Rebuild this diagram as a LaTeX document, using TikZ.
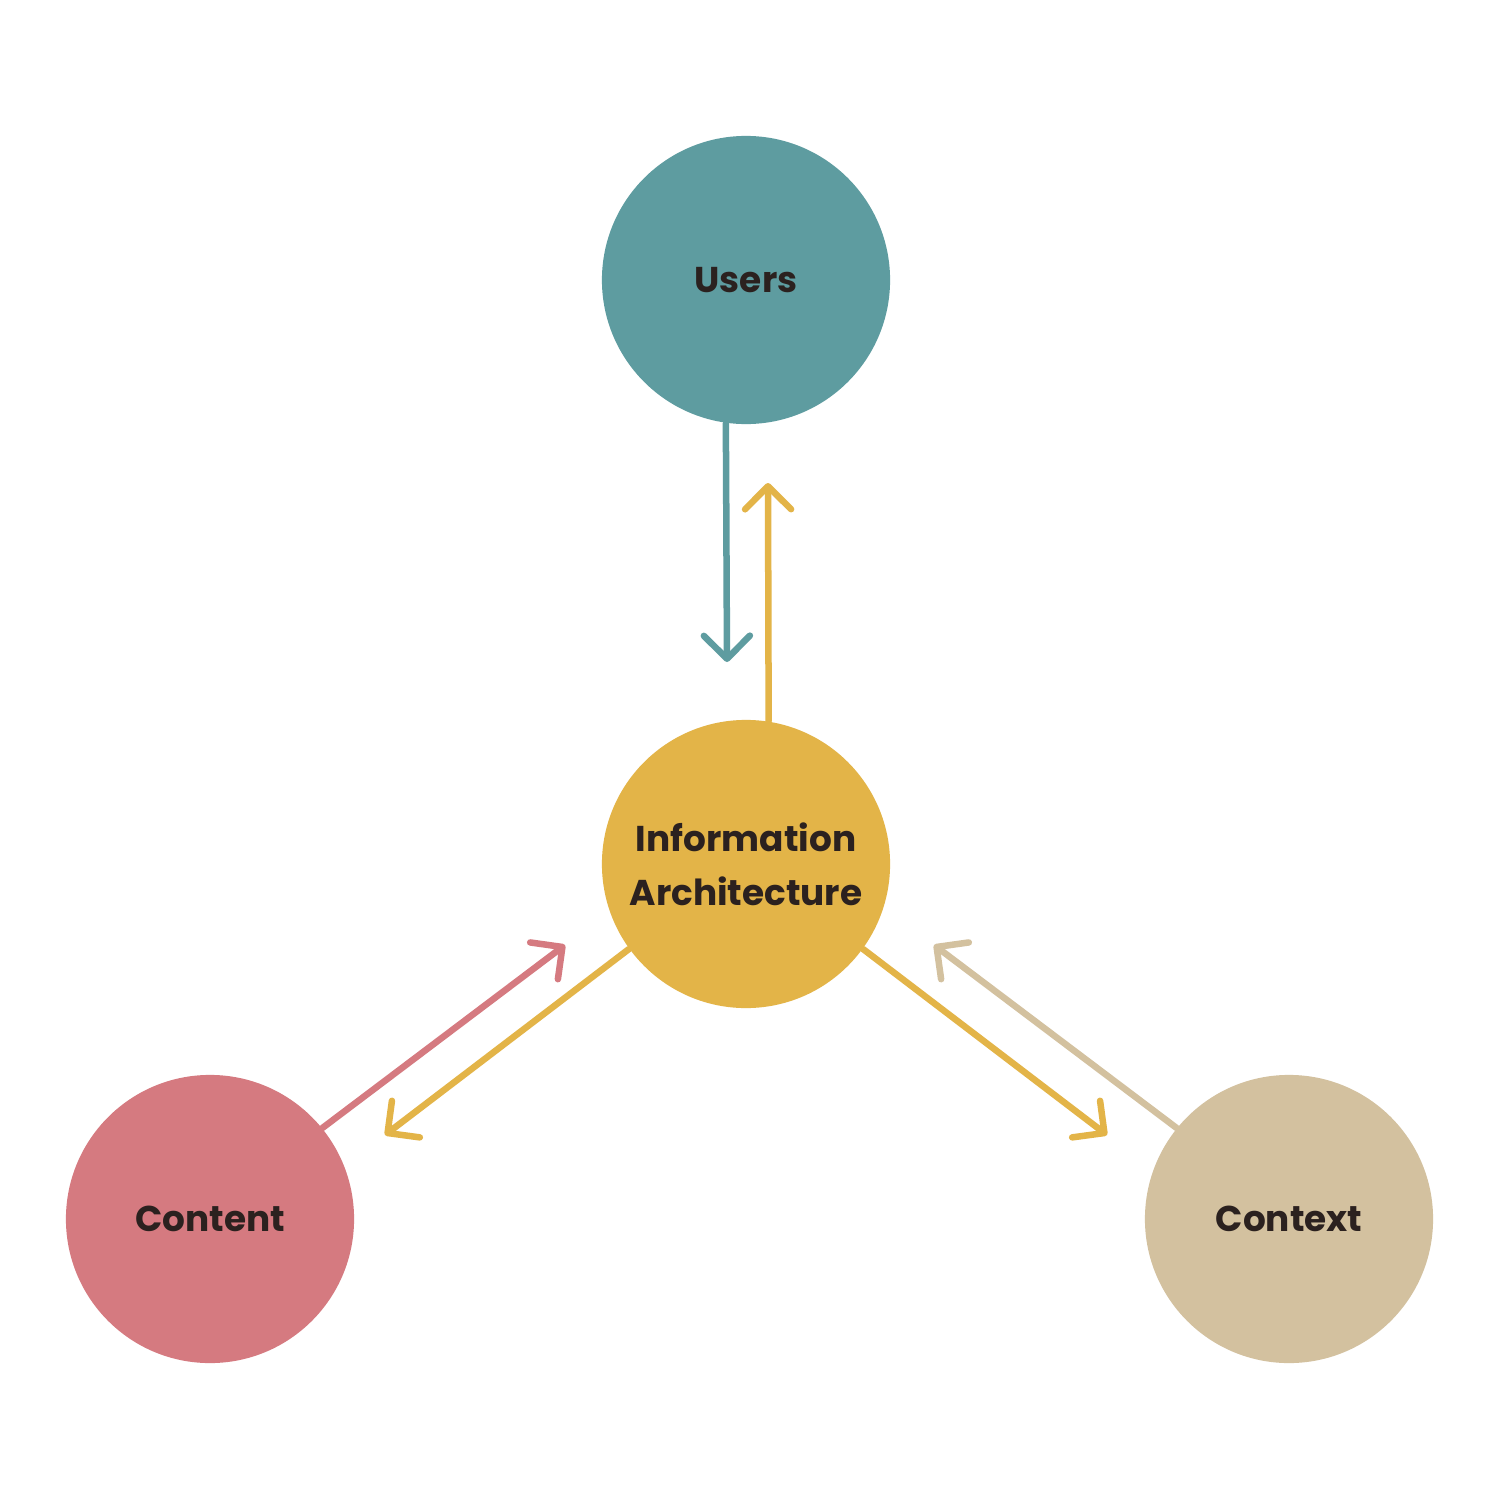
\documentclass[tikz,border=0pt]{standalone}
\usepackage{fontspec}
\setmainfont{Poppins}[UprightFont=* Bold]
\usetikzlibrary{arrows.meta}
\definecolor{teal}{HTML}{5E9CA0}
\definecolor{gold}{HTML}{E3B448}
\definecolor{rose}{HTML}{D57A80}
\definecolor{sand}{HTML}{D3C19F}
\definecolor{ink}{HTML}{2B211F}
\begin{document}
\begin{tikzpicture}[x=0.01cm,y=-0.01cm,
  bubble/.style={circle,minimum size=2.88cm,inner sep=0pt,text=ink,font=\fontsize{10.2pt}{15.4pt}\selectfont,align=center},
  link/.style={line width=0.065cm,line cap=round,-{Straight Barb[length=0.23cm,width=0.46cm,line cap=round,line join=round]}}]
\useasboundingbox[fill=white] (0,0) rectangle (1500,1500);
\node[bubble,fill=teal] (u) at (746,280) {Users};
\node[bubble,fill=gold] (ia) at (746,864) {Information\\Architecture};
\node[bubble,fill=rose] (c) at (210,1219) {Content};
\node[bubble,fill=sand] (x) at (1289,1219) {Context};
\coordinate (ue) at (727,662);
\coordinate (iu) at (768,483);
\coordinate (ce) at (565,945);
\coordinate (ic) at (385,1135);
\coordinate (ix) at (1107,1135);
\coordinate (xe) at (934,945);
\draw[link,teal] (u.262.4) -- (ue);
\draw[link,gold] (ia.81.2) -- (iu);
\draw[link,rose] (c.39.1) -- (ce);
\draw[link,gold] (ia.216.1) -- (ic);
\draw[link,gold] (ia.324.1) -- (ix);
\draw[link,sand] (x.141.5) -- (xe);
\end{tikzpicture}
\end{document}
